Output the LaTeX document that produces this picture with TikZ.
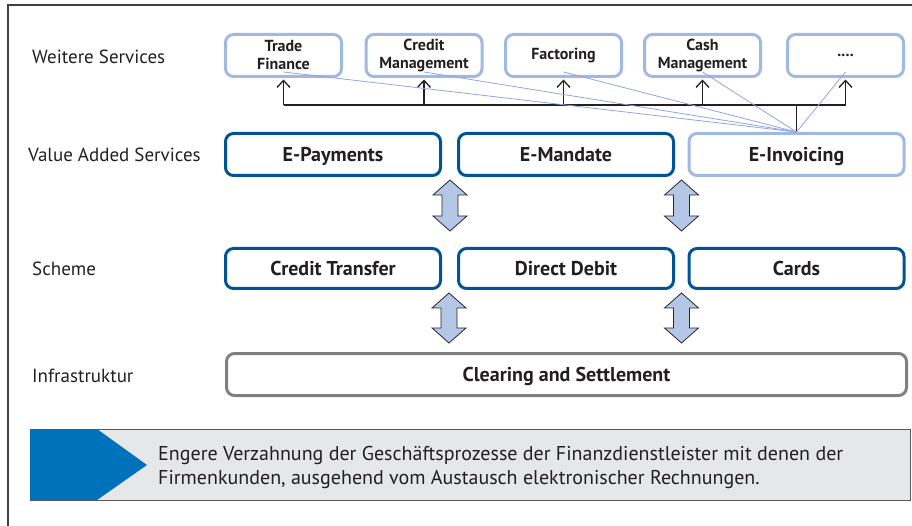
\documentclass[tikz,border=0pt]{standalone}
\usepackage{fontspec}
\setmainfont{PT Sans}
\usepackage{tikz}
\usetikzlibrary{arrows.meta}

\definecolor{darkblue}{RGB}{0,84,150}
\definecolor{lightblue}{RGB}{160,185,225}
\definecolor{arrowfill}{RGB}{180,199,231}
\definecolor{infragray}{RGB}{128,128,128}
\definecolor{calloutgray}{RGB}{230,231,232}
\definecolor{calloutblue}{RGB}{0,114,188}
\definecolor{textdark}{RGB}{35,31,32}

\tikzset{
    every node/.style={text=textdark},
    service/.style={draw=lightblue, line width=3pt, rounded corners=8pt, minimum width=116pt, minimum height=42pt, inner sep=0pt, align=center, font=\fontsize{16}{18}\selectfont\bfseries},
    vas/.style={draw=darkblue, line width=3pt, rounded corners=8pt, minimum width=215pt, minimum height=42pt, inner sep=0pt, text height=14pt, text depth=0pt, font=\fontsize{20}{22}\selectfont\bfseries},
    layer/.style={anchor=west, inner sep=0pt, font=\fontsize{19}{22}\selectfont},
    blockarrow/.style={draw=black!85, line width=0.8pt, fill=arrowfill, line join=miter},
    bus/.style={draw=textdark, line width=1.3pt},
    feed/.style={draw=lightblue!90!blue, line width=0.8pt}
}

\begin{document}
\begin{tikzpicture}[x=1pt, y=-1pt]
    \useasboundingbox (0,0) rectangle (912,526);
    \draw[line width=1.2pt, black!75] (912,5) -- (8,5) -- (8,526);

    \node[layer] (lws) at (32,57) {Weitere Services};
    \node[layer] (lvas) at (28,155) {Value Added Services};
    \node[layer] (lsch) at (32,269) {Scheme};
    \node[layer] (linf) at (32,376) {Infrastruktur};

    \node[service] (tf) at (283.5,55.5) {Trade\\Finance};
    \node[service] (cm) at (424,55.5) {Credit\\Management};
    \node[service] (fac) at (563.5,55.5) {Factoring};
    \node[service] (cash) at (702.5,55.5) {Cash\\Management};
    \node[service] (more) at (845.5,55.5) {....};

    \node[vas] (pay) at (333,154.5) {E-Payments};
    \node[vas] (mand) at (566,154.5) {E-Mandate};
    \node[vas, draw=lightblue] (inv) at (796.5,154.5) {E-Invoicing};

    \node[vas, minimum height=40pt] (ct) at (333,268.5) {Credit Transfer};
    \node[vas, minimum height=40pt] (dd) at (566,268.5) {Direct Debit};
    \node[vas, minimum height=40pt] (cards) at (796.5,268.5) {Cards};

    \node[vas, draw=infragray, minimum width=680pt] (cs) at (566.5,374.5) {Clearing and Settlement};

    \foreach \cx/\t/\b in {450/180/231, 681.5/180/231, 449/293/343, 681.5/293/343}
        \draw[blockarrow] (\cx,\t) -- (\cx+17,\t+15) -- (\cx+8,\t+15) -- (\cx+8,\b-15) -- (\cx+17,\b-15)
            -- (\cx,\b) -- (\cx-17,\b-15) -- (\cx-8,\b-15) -- (\cx-8,\t+15) -- (\cx-17,\t+15) -- cycle;

    \coordinate (hub) at (inv.north |- 0,105);
    \draw[bus] (tf.south |- hub) -- (more.south |- hub);
    \draw[bus] (hub) -- (inv.north);
    \foreach \s in {tf, cm, fac, cash, more}
        \draw[bus, -{Straight Barb[length=7pt, width=13pt]}] (\s.south |- hub) -- ([yshift=-1.5pt]\s.south);
    \foreach \s in {tf, cm, fac, cash, more}
        \draw[feed] (inv.north) -- ([yshift=6pt]\s.south);

    \draw[draw=black!65, line width=0.8pt, fill=calloutgray] (30,429) rectangle (910,500);
    \fill[calloutblue] (30,429) -- (97,429) -- (147,465) -- (97,500) -- (30,500) -- cycle;
    \node[anchor=west, align=left, inner sep=0pt, font=\fontsize{20}{24}\selectfont] (note) at (158,467) {Engere Verzahnung der Geschäftsprozesse der Finanzdienstleister mit denen der\\Firmenkunden, ausgehend vom Austausch elektronischer Rechnungen.};
\end{tikzpicture}
\end{document}
